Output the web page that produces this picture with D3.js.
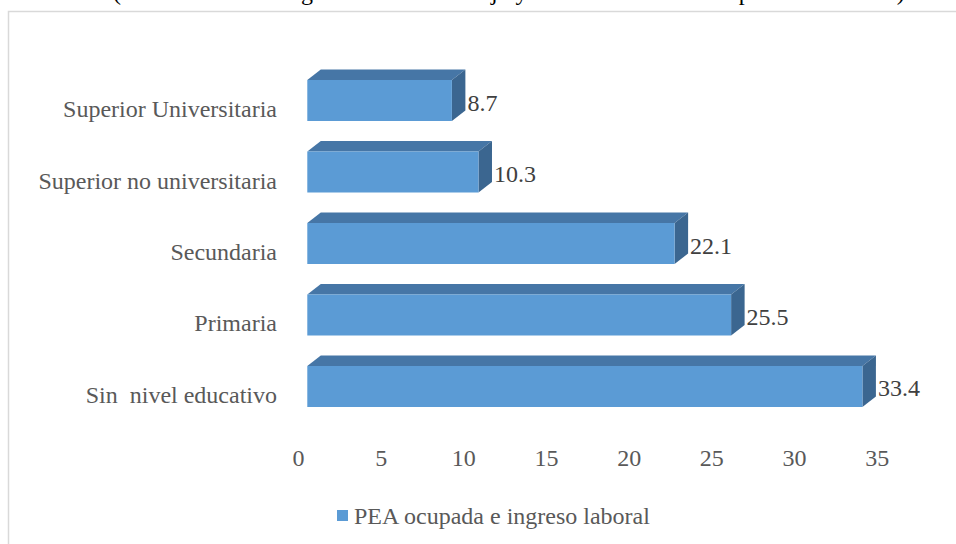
<!DOCTYPE html>
<html lang="es">
<head>
    <meta charset="UTF-8">
    <title>PEA ocupada e ingreso laboral</title>
    <style>
        body { margin: 0; background: #fff; }
    </style>
</head>
<body>
<script src="https://d3js.org/d3.v7.min.js"></script>

<div id="chart"></div>

<script type="text/javascript">

    // datos (de arriba hacia abajo)
    var categories = ["Superior Universitaria", "Superior no universitaria", "Secundaria", "Primaria", "Sin  nivel educativo"];
    var values = [8.7, 10.3, 22.1, 25.5, 33.4];
    var tickValues = [0, 5, 10, 15, 20, 25, 30, 35];
    var seriesName = "PEA ocupada e ingreso laboral";
    var titleText = "(Distribución del ingreso total del trabajo y nivel educativo de la población activa)";

    var width = 956,
        height = 544;
    var serif = "'Liberation Serif', Tinos, 'Times New Roman', Times, 'DejaVu Serif', serif";

    var svg = d3
        .select("#chart")
        .append("svg")
        .attr("width", width)
        .attr("height", height)
        .style("font-family", serif);

    // titulo (cortado por arriba, como en el original)
    svg.append("text")
        .attr("x", 113)
        .attr("y", 0)
        .style("font-family", serif)
        .style("font-size", "24px")
        .style("fill", "#000")
        .text(titleText);

    // marco del grafico
    svg.append("rect")
        .attr("x", 8.5)
        .attr("y", 11.5)
        .attr("width", 1000)
        .attr("height", 600)
        .style("fill", "none")
        .style("stroke", "#d9d9d9")
        .style("stroke-width", 1.5);

    // escalas
    var xAxisScale = d3.scaleLinear().domain([0, 35]).range([298, 876.7]);
    var x = d3.scaleLinear().domain([0, 35]).range([307.3, 889]);
    var y = d3.scaleBand()
        .domain(categories)
        .range([49.5, 437.5])
        .padding(0.4266);

    var depthX = 13.5,
        depthY = 10.5;

    var data = categories.map(function(c, i) { return { cat: c, value: values[i] }; });

    var bars = svg.selectAll(".bar")
        .data(data)
        .enter()
        .append("g")
        .attr("class", "bar");

    // cara superior
    bars.append("path")
        .attr("d", function(d) {
            var x0 = x(0), x1 = x(d.value), y0 = y(d.cat);
            return "M" + x0 + "," + y0 +
                "L" + x1 + "," + y0 +
                "L" + (x1 + depthX) + "," + (y0 - depthY) +
                "L" + (x0 + depthX) + "," + (y0 - depthY) + "Z";
        })
        .style("fill", "#4676a6");

    // cara lateral
    bars.append("path")
        .attr("d", function(d) {
            var x1 = x(d.value), y0 = y(d.cat), y1 = y0 + y.bandwidth();
            return "M" + x1 + "," + y0 +
                "L" + (x1 + depthX) + "," + (y0 - depthY) +
                "L" + (x1 + depthX) + "," + (y1 - depthY) +
                "L" + x1 + "," + y1 + "Z";
        })
        .style("fill", "#3b6690");

    // cara frontal
    bars.append("rect")
        .attr("x", x(0))
        .attr("y", function(d) { return y(d.cat); })
        .attr("width", function(d) { return x(d.value) - x(0); })
        .attr("height", y.bandwidth())
        .style("fill", "#5b9bd5");

    // etiquetas de valor
    bars.append("text")
        .attr("x", function(d) { return x(d.value) + depthX + 2; })
        .attr("y", function(d) { return y(d.cat) + y.bandwidth() / 2 + 10; })
        .style("font-family", serif)
        .style("font-size", "24px")
        .style("fill", "#404040")
        .text(function(d) { return d.value.toFixed(1); });

    // etiquetas de categoria
    svg.append("g")
        .selectAll("text")
        .data(categories)
        .enter()
        .append("text")
        .attr("x", 277)
        .attr("y", function(d) { return y(d) + y.bandwidth() / 2 + 16.5; })
        .attr("text-anchor", "end")
        .style("font-family", serif)
        .style("font-size", "24px")
        .style("fill", "#595959")
        .style("white-space", "pre")
        .text(function(d) { return d; });

    // eje x
    var xAxis = svg.append("g")
        .attr("transform", "translate(0,466)")
        .call(d3.axisBottom(xAxisScale).tickValues(tickValues).tickSize(0).tickPadding(0));
    xAxis.attr("font-family", null).attr("font-size", null);
    xAxis.select(".domain").remove();
    xAxis.selectAll("text")
        .attr("dy", 0)
        .attr("y", 0)
        .style("font-family", serif)
        .style("font-size", "24px")
        .style("fill", "#595959");

    // leyenda
    svg.append("rect")
        .attr("x", 337)
        .attr("y", 510)
        .attr("width", 11)
        .attr("height", 11)
        .style("fill", "#5b9bd5");
    svg.append("text")
        .attr("x", 354)
        .attr("y", 524)
        .style("font-family", serif)
        .style("font-size", "24px")
        .style("fill", "#595959")
        .text(seriesName);

</script>
</body>
</html>
